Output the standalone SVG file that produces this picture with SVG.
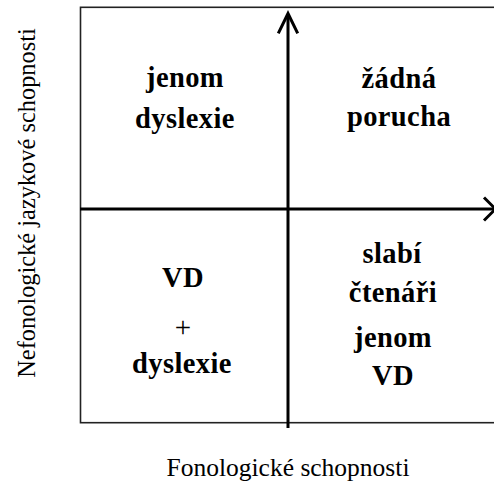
<svg xmlns="http://www.w3.org/2000/svg" width="494" height="482" viewBox="0 0 494 482">
  <style>
    .frame { fill: none; stroke: #222; stroke-width: 1.6; }
    .axis { fill: none; stroke: #000; stroke-width: 3; }
    .head { fill: none; stroke: #000; stroke-width: 3; stroke-linejoin: miter; }
    text { font-family: 'Liberation Serif', serif; fill: #000; text-anchor: middle; }
    .q { font-weight: bold; font-size: 28.5px; letter-spacing: 0.4px; }
    .plus { font-weight: normal; font-size: 29px; }
    .lbl { font-size: 25.5px; }
    .ylbl { font-size: 24.4px; }
  </style>
  <rect width="494" height="482" fill="#fff"/>

  <!-- outer frame, open past the right edge -->
  <rect id="frame" class="frame" x="80.5" y="7.3" width="440" height="415.4"/>

  <!-- axes -->
  <g id="connectors">
    <line class="axis" x1="288" y1="428" x2="288" y2="15"/>
    <polyline class="head" points="278.3,33.3 288,13.5 297.7,33.3"/>
    <line class="axis" x1="80" y1="209" x2="494" y2="209"/>
    <polyline class="head" points="484,197.5 495.5,209 484,220.5"/>
  </g>

  <!-- quadrant labels -->
  <g id="q-top-left">
    <text class="q" x="185" y="87">jenom</text>
    <text class="q" x="185" y="128">dyslexie</text>
  </g>
  <g id="q-top-right">
    <text class="q" x="399" y="88">žádná</text>
    <text class="q" x="399" y="126">porucha</text>
  </g>
  <g id="q-bottom-left">
    <text class="q" x="183" y="287">VD</text>
    <text class="plus" x="183" y="337">+</text>
    <text class="q" x="182" y="373">dyslexie</text>
  </g>
  <g id="q-bottom-right">
    <text class="q" x="392" y="263">slabí</text>
    <text class="q" x="393" y="302">čtenáři</text>
    <text class="q" x="393" y="347">jenom</text>
    <text class="q" x="393" y="385">VD</text>
  </g>

  <!-- axis titles -->
  <g id="x-title">
    <text class="lbl" x="288" y="476">Fonologické schopnosti</text>
  </g>
  <g id="y-title">
    <text class="ylbl" transform="translate(35,203) rotate(-90)">Nefonologické jazykové schopnosti</text>
  </g>
</svg>
